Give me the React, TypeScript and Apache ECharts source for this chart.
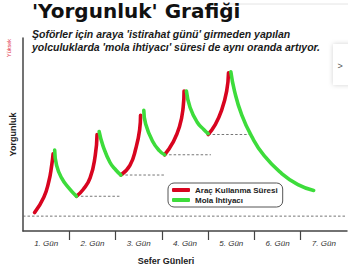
import React, { useEffect, useRef } from "react";
import * as echarts from "echarts";

const dayLabels = ["1. Gün", "2. Gün", "3. Gün", "4. Gün", "5. Gün", "6. Gün", "7. Gün"];
const tickValues = [1, 2, 3, 4, 5, 6];
const labelValues = [0.5, 1.5, 2.5, 3.5, 4.5, 5.5, 6.5];

const DRIVE = "Araç Kullanma Süresi";
const REST = "Mola İhtiyacı";

const driving1 = [[0.25, 9.5], [0.45, 17.5], [0.556, 25.5], [0.62, 34], [0.65, 40]];
const driving2 = [[1.154, 18], [1.3, 21.5], [1.45, 27.5], [1.56, 39], [1.6, 50]];
const driving3 = [[2.115, 29], [2.31, 34], [2.44, 43], [2.52, 52.5], [2.54, 60]];
const driving4 = [[3.06, 39.5], [3.23, 45.5], [3.38, 54], [3.46, 64], [3.48, 72.5]];
const driving5 = [[4.0, 50], [4.15, 55], [4.29, 62.5], [4.4, 72.5], [4.44, 82]];

const rest1 = [[0.684, 42], [0.726, 34], [0.833, 27.5], [0.983, 22.5], [1.154, 18]];
const rest2 = [[1.645, 51.5], [1.73, 44], [1.88, 35.5], [2.01, 31.5], [2.115, 29]];
const rest3 = [[2.61, 62.5], [2.65, 55.5], [2.8, 46.5], [2.95, 41.5], [3.06, 39.5]];
const rest4 = [[3.53, 72.5], [3.61, 64], [3.76, 56.5], [3.91, 52.5], [4.0, 50.5]];
const rest5 = [[4.49, 82.5], [4.57, 72.5], [4.72, 60.5], [4.94, 49], [5.21, 39], [5.58, 30], [5.94, 24], [6.28, 21]];

const levelLines = [
  [[1.154, 18], [2.115, 18]],
  [[2.115, 29], [3.06, 29]],
  [[3.06, 39.5], [4.06, 39.5]],
  [[4.0, 50], [4.94, 50]],
];
const baseline = [[0, 7.7], [7, 7.7]];

const RED = "#d8041f";
const GREEN = "#3ddc3b";
const AXIS = "#444";
const FONT = "Liberation Sans";

export default function App() {
  const ref = useRef<HTMLDivElement>(null);
  useEffect(() => {
    if (!ref.current) return;
    const chart = echarts.init(ref.current, null, { renderer: "svg" });
    const dashed = (data: number[][]) => ({
      type: "line",
      data,
      symbol: "none",
      silent: true,
      z: 1,
      lineStyle: { color: "#666", width: 0.9, type: [2.5, 2] },
    });
    const curve = (name: string, color: string, data: number[][], z: number) => ({
      type: "line",
      name,
      data,
      color,
      symbol: "none",
      smooth: 0.5,
      z,
      lineStyle: { color, width: 3.6, cap: "round", join: "round" },
    });
    chart.setOption({
      animation: false,
      backgroundColor: "#fff",
      title: [
        {
          text: "'Yorgunluk' Grafiği",
          left: 27,
          top: -4,
          textStyle: { fontFamily: "DejaVu Sans", fontWeight: "bold", fontSize: 20, color: "#111" },
        },
        {
          text: "Şoförler için araya 'istirahat günü' girmeden yapılan\nyolculuklarda 'mola ihtiyacı' süresi de aynı oranda artıyor.",
          left: 27,
          top: 22,
          textStyle: {
            fontFamily: FONT,
            fontStyle: "italic",
            fontWeight: "bold",
            fontSize: 10.5,
            lineHeight: 13.5,
            color: "#1a1a1a",
          },
        },
      ],
      graphic: [
        { type: "line", shape: { x1: 228, y1: 4, x2: 348, y2: 4 }, style: { stroke: "#e4e4e4", lineWidth: 1 } },
        {
          type: "rect",
          shape: { x: 333, y: 44, width: 20, height: 41 },
          style: { fill: "#fff", shadowBlur: 5, shadowColor: "rgba(0,0,0,0.18)" },
        },
        {
          type: "text",
          x: 340,
          y: 66,
          style: { text: ">", fill: "#555", font: "9px Liberation Sans", align: "center", verticalAlign: "middle" },
        },
        {
          type: "text",
          x: 9,
          y: 48,
          rotation: Math.PI / 2,
          style: {
            text: "Yüksek",
            fill: "#e0344a",
            font: "5.5px Liberation Sans",
            align: "center",
            verticalAlign: "middle",
          },
        },
      ],
      legend: {
        left: 168,
        top: 183,
        orient: "vertical",
        itemWidth: 18,
        itemHeight: 4,
        itemGap: 2,
        padding: [3, 5, 3, 4],
        borderColor: "#555",
        borderWidth: 1,
        borderRadius: 6,
        textStyle: { fontFamily: FONT, fontWeight: "bold", fontSize: 8, color: "#222" },
        data: [
          { name: DRIVE, icon: "roundRect" },
          { name: REST, icon: "roundRect" },
        ],
      },
      grid: { left: 18, right: 1, top: 38, bottom: 32 },
      xAxis: {
        type: "value",
        min: 0,
        max: 7,
        name: "Sefer Günleri",
        nameLocation: "middle",
        nameGap: 25,
        nameTextStyle: { fontFamily: FONT, fontWeight: "bold", fontSize: 9, color: "#222", padding: [0, 38, 0, 0] },
        axisLine: { show: true, lineStyle: { color: AXIS, width: 1.5 } },
        axisTick: { show: true, length: 9, customValues: tickValues, lineStyle: { color: AXIS, width: 1.2 } },
        axisLabel: {
          customValues: labelValues,
          margin: 8,
          fontFamily: FONT,
          fontStyle: "italic",
          fontSize: 8,
          color: "#333",
          formatter: (v: number) => dayLabels[Math.floor(v)],
        },
        splitLine: { show: false },
      },
      yAxis: {
        type: "value",
        min: 0,
        max: 100,
        name: "Yorgunluk",
        nameLocation: "middle",
        nameRotate: 90,
        nameGap: 6,
        nameTextStyle: { fontFamily: FONT, fontWeight: "bold", fontSize: 9, color: "#222" },
        axisLine: { show: true, lineStyle: { color: AXIS, width: 1.5 } },
        axisTick: { show: false },
        axisLabel: { show: false },
        splitLine: { show: false },
      },
      series: [
        dashed(baseline),
        ...levelLines.map((d) => dashed(d)),
        curve(DRIVE, RED, driving1, 3),
        curve(DRIVE, RED, driving2, 3),
        curve(DRIVE, RED, driving3, 3),
        curve(DRIVE, RED, driving4, 3),
        curve(DRIVE, RED, driving5, 3),
        curve(REST, GREEN, rest1, 4),
        curve(REST, GREEN, rest2, 4),
        curve(REST, GREEN, rest3, 4),
        curve(REST, GREEN, rest4, 4),
        curve(REST, GREEN, rest5, 4),
      ],
    });
    return () => chart.dispose();
  }, []);
  return <div ref={ref} style={{ position: "fixed", left: 0, top: 0, width: 348, height: 270 }} />;
}
